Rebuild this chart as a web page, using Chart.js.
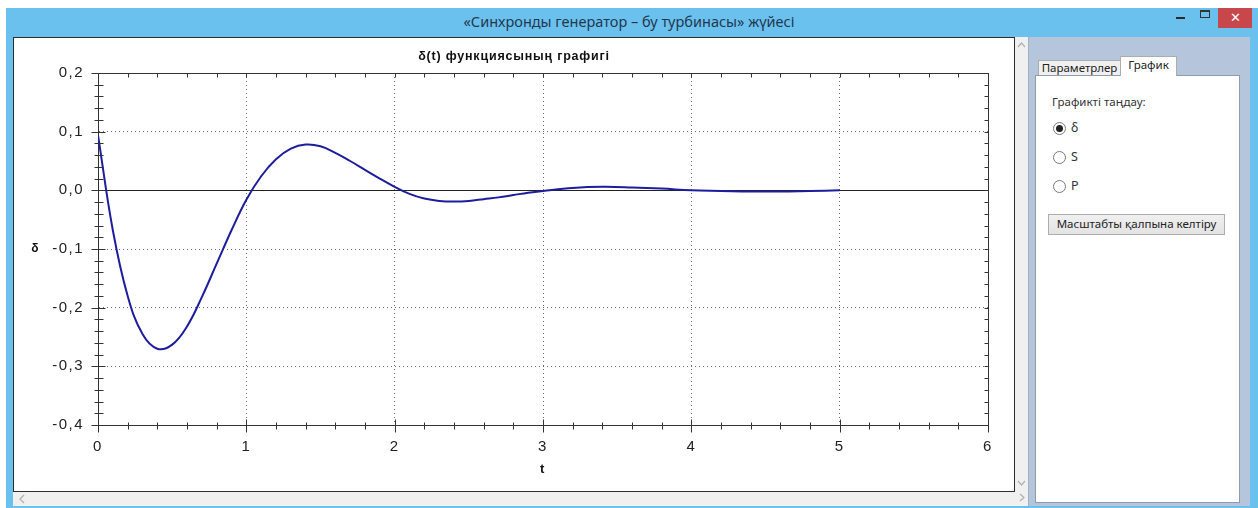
<!DOCTYPE html>
<html>
<head>
<meta charset="utf-8">
<script src="https://cdn.jsdelivr.net/npm/chart.js@4.4.1/dist/chart.umd.min.js"></script>
<style>
  body { margin: 0; width: 1258px; height: 508px; position: relative; overflow: hidden; background: #fff; font-family: "Noto Sans", "Open Sans", sans-serif; }
  .abs { position: absolute; box-sizing: border-box; }
  #frame { left: 6px; top: 8px; width: 1252px; height: 500px; background: #6bc1ee; }
  #title { left: 0; top: 8px; width: 1258px; height: 28px; line-height: 27px; text-align: center; font-size: 14.5px; color: #22384f; }
  #btnMin { left: 1176px; top: 17px; width: 9px; height: 2px; background: #2a2a2a; }
  #btnMax { left: 1200px; top: 10px; width: 10px; height: 8px; border: 1px solid #333; border-top-width: 2px; }
  #btnClose { left: 1218px; top: 8px; width: 34px; height: 20px; background: #c8474b; color: #fff; font-size: 13px; line-height: 19px; text-align: center; }
  #chartBox { left: 13px; top: 37px; width: 1002px; height: 455px; border: 1px solid #2e2e2e; background: #fff; }
  #chartBox canvas { position: absolute; left: 0; top: 0; }
  #vScroll { left: 1015px; top: 37px; width: 13px; height: 469px; background: #f0f0f0; }
  #hScroll { left: 13px; top: 492px; width: 1002px; height: 14px; background: #f0f0f0; }
  #side { left: 1028px; top: 37px; width: 222px; height: 469px; background: #b5c6dc; border-left: 1px solid #9fb0c6; }
  #page { left: 1035px; top: 75px; width: 205px; height: 428px; background: #fff; border: 1px solid #8d9bad; }
  .tab { font-size: 11.5px; color: #222; text-align: center; border: 1px solid #acacac; border-bottom: none; }
  #tab1 { left: 1038px; top: 60px; width: 83px; height: 15px; line-height: 14px; background: #f0f0f0; }
  #tab2 { left: 1120px; top: 56px; width: 57px; height: 20px; line-height: 15px; background: #fff; }
  .lbl { font-size: 11.5px; color: #333; white-space: nowrap; }
  .big { font-size: 12.5px; }
  .radio { width: 13px; height: 13px; border: 1px solid #7a7a7a; border-radius: 50%; background: #fff; }
  .radio.on::after { content: ""; position: absolute; left: 2px; top: 2px; width: 7px; height: 7px; border-radius: 50%; background: #222; }
  #resetBtn { left: 1048px; top: 214px; width: 177px; height: 21px; border: 1px solid #adadad; background: linear-gradient(#f0f0f0, #e3e3e3); font-size: 11.5px; color: #222; text-align: center; line-height: 18px; }
</style>
</head>
<body>
<div class="abs" id="frame"></div>
<div class="abs" id="title">«Синхронды генератор – бу турбинасы» жүйесі</div>
<div class="abs" id="btnMin"></div>
<div class="abs" id="btnMax"></div>
<div class="abs" id="btnClose">✕</div>

<div class="abs" id="chartBox"><canvas id="deltaChart" width="1000" height="452"></canvas></div>

<div class="abs" id="vScroll">
  <svg width="13" height="469" style="position:absolute;left:0;top:0">
    <polyline points="3,10 6.5,6 10,10" fill="none" stroke="#b0b0b0" stroke-width="1.2"/>
    <polyline points="3,444 6.5,448 10,444" fill="none" stroke="#b0b0b0" stroke-width="1.2"/>
    <polyline points="5,457 9,460.5 5,464" fill="none" stroke="#b0b0b0" stroke-width="1.2"/>
  </svg>
</div>
<div class="abs" id="hScroll">
  <svg width="30" height="14" style="position:absolute;left:0;top:0">
    <polyline points="11,3 7,7 11,11" fill="none" stroke="#b0b0b0" stroke-width="1.2"/>
  </svg>
</div>

<div class="abs" id="side"></div>
<div class="abs" id="page"></div>
<div class="abs tab" id="tab1">Параметрлер</div>
<div class="abs tab" id="tab2">График</div>
<div class="abs lbl" style="left:1052px;top:94px">Графикті таңдау:</div>
<div class="abs radio on" style="left:1053px;top:122px"></div>
<div class="abs lbl big" style="left:1071px;top:119px">δ</div>
<div class="abs radio" style="left:1053px;top:151px"></div>
<div class="abs lbl big" style="left:1071px;top:148px">S</div>
<div class="abs radio" style="left:1053px;top:180px"></div>
<div class="abs lbl big" style="left:1071px;top:177px">P</div>
<div class="abs" id="resetBtn">Масштабты қалпына келтіру</div>

<script>
'use strict';

// DATA
const timeValues = [
  0, 0.1, 0.2, 0.3, 0.4, 0.5, 0.6, 0.7, 0.8, 0.9, 1.0,
  1.1, 1.2, 1.3, 1.4, 1.5, 1.6, 1.7, 1.8, 1.9, 2.0,
  2.1, 2.2, 2.3, 2.4, 2.5, 2.6, 2.7, 2.8, 2.9, 3.0,
  3.2, 3.4, 3.6, 3.8, 4.0, 4.2, 4.4, 4.6, 4.8, 5.0
];
const deltaValues = [
  0.094, -0.068, -0.180, -0.245, -0.270, -0.263, -0.232, -0.182, -0.125, -0.068, -0.016,
  0.024, 0.053, 0.071, 0.078, 0.075, 0.064, 0.050, 0.035, 0.020, 0.006,
  -0.006, -0.014, -0.018, -0.019, -0.018, -0.015, -0.012, -0.008, -0.004, -0.001,
  0.004, 0.006, 0.005, 0.003, 0.000, -0.001, -0.002, -0.002, -0.001, 0.000
];
const xTickLabels = ['0', '1', '2', '3', '4', '5', '6'];
const yTickLabels = ['-0,4', '-0,3', '-0,2', '-0,1', '0,0', '0,1', '0,2'];

const chartTitle = 'δ(t) функциясының графигі';
const xAxisTitle = 't';
const yAxisTitle = 'δ';

// minor tick spacing
const xMinorStep = 0.2;
const yMinorStep = 0.02;

const axisColor = '#333';
const gridColor = '#6a6a6a';
const fontFamily = '"Liberation Sans", Arial, sans-serif';
const tickFont = { family: fontFamily, size: 15 };

const points = timeValues.map((t, i) => ({ x: t, y: deltaValues[i] }));

// wider letters like the WinForms chart
const spacingPlugin = {
  id: 'spacing',
  beforeDraw(chart) {
    chart.ctx.letterSpacing = '1.5px';
  },
  beforeDatasetsDraw(chart) {
    chart.ctx.letterSpacing = '0px';
  },
};

// ticks crossing the axes, frame and titles
const axisTicksPlugin = {
  id: 'axisTicks',
  afterDraw(chart) {
    const { ctx, chartArea, scales } = chart;
    const { left, right, top, bottom } = chartArea;
    const xs = scales.x;
    const ys = scales.y;
    const crisp = v => Math.round(v) + 0.5;

    ctx.save();
    ctx.letterSpacing = '0px';
    ctx.strokeStyle = axisColor;
    ctx.lineWidth = 1;
    ctx.beginPath();

    // frame top + right
    ctx.moveTo(crisp(left), crisp(top));
    ctx.lineTo(crisp(right), crisp(top));
    ctx.lineTo(crisp(right), crisp(bottom));

    // bottom axis
    const xCount = Math.round((xs.max - xs.min) / xMinorStep);
    for (let i = 0; i <= xCount; i++) {
      const px = crisp(xs.getPixelForValue(xs.min + i * xMinorStep));
      const major = i % 5 === 0;
      ctx.moveTo(px, crisp(bottom) - (major ? 6 : 3));
      ctx.lineTo(px, crisp(bottom) + (major ? 7 : 4));
      // top edge
      ctx.moveTo(px, crisp(top));
      ctx.lineTo(px, crisp(top) + 4);
    }

    // left axis
    const yCount = Math.round((ys.max - ys.min) / yMinorStep);
    for (let i = 0; i <= yCount; i++) {
      const py = crisp(ys.getPixelForValue(ys.min + i * yMinorStep));
      const major = i % 5 === 0;
      ctx.moveTo(crisp(left) - (major ? 7 : 4), py);
      ctx.lineTo(crisp(left) + (major ? 7 : 5), py);
      // right edge
      ctx.moveTo(crisp(right), py);
      ctx.lineTo(crisp(right) - 4, py);
    }
    ctx.stroke();

    ctx.fillStyle = '#111';
    ctx.textAlign = 'center';
    ctx.textBaseline = 'middle';

    // chart title
    ctx.letterSpacing = '0.8px';
    ctx.font = 'bold 12.5px ' + fontFamily;
    ctx.fillText(chartTitle, chart.width / 2, 19);

    // y axis title, upright
    ctx.letterSpacing = '0px';
    ctx.font = 'bold 12px ' + fontFamily;
    ctx.fillText(yAxisTitle, 21, (top + bottom) / 2);
    ctx.restore();
  }
};

const ctx = document.getElementById('deltaChart').getContext('2d');

const chart = new Chart(ctx, {
  type: 'line',
  data: {
    datasets: [
      {
        label: 'δ',
        data: points,
        borderColor: '#1d1d9e',
        borderWidth: 2,
        pointRadius: 0,
        tension: 0.4,
        fill: false,
      },
    ],
  },
  options: {
    responsive: false,
    animation: false,
    devicePixelRatio: 1,
    layout: { padding: { left: 0, right: 26, top: 35, bottom: 0 } },
    plugins: {
      legend: { display: false },
      tooltip: { enabled: false },
      title: { display: false },
    },
    scales: {
      x: {
        type: 'linear',
        min: 0,
        max: 6,
        afterFit: scale => { scale.height = 65; },
        ticks: {
          stepSize: 1,
          padding: 13,
          color: '#222',
          font: tickFont,
          callback: (value, i) => xTickLabels[i],
        },
        grid: { color: gridColor, drawTicks: false },
        border: { color: axisColor, dash: [1, 3] },
        title: {
          display: true,
          text: xAxisTitle,
          color: '#111',
          font: { family: fontFamily, size: 13, weight: 'bold' },
          padding: { top: 0, bottom: 13 },
        },
      },
      y: {
        type: 'linear',
        min: -0.4,
        max: 0.2,
        afterFit: scale => { scale.width = 84; },
        ticks: {
          stepSize: 0.1,
          padding: 14,
          color: '#222',
          font: tickFont,
          callback: (value, i) => yTickLabels[i],
        },
        grid: {
          color: c => (c.tick && Math.abs(c.tick.value) < 1e-9 ? '#222' : gridColor),
          drawTicks: false,
        },
        border: {
          color: axisColor,
          dash: c => (c.tick && Math.abs(c.tick.value) < 1e-9 ? [] : [1, 3]),
        },
      },
    },
  },
  plugins: [spacingPlugin, axisTicksPlugin],
});
</script>
</body>
</html>
